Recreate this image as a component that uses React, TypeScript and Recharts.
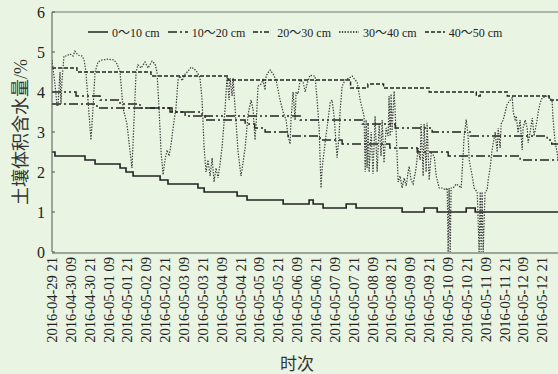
import React from "react";
import { LineChart, Line, XAxis, YAxis, ReferenceLine, Legend, Label } from "recharts";

// time axis in hours from 2016-04-29 21:00
const tickHours = [0, 12, 24, 36, 48, 60, 72, 84, 96, 108, 120, 132, 144, 156, 168, 180, 192, 204, 216, 228, 240, 252, 264, 276, 288, 300, 312];
const tickLabels = [
  "2016-04-29 21", "2016-04-30 09", "2016-04-30 21", "2016-05-01 09", "2016-05-01 21",
  "2016-05-02 09", "2016-05-02 21", "2016-05-03 09", "2016-05-03 21", "2016-05-04 09",
  "2016-05-04 21", "2016-05-05 09", "2016-05-05 21", "2016-05-06 09", "2016-05-06 21",
  "2016-05-07 09", "2016-05-07 21", "2016-05-08 09", "2016-05-08 21", "2016-05-09 09",
  "2016-05-09 21", "2016-05-10 09", "2016-05-10 21", "2016-05-11 09", "2016-05-11 21",
  "2016-05-12 09", "2016-05-12 21",
];
// tick marks are spaced a little wider than the labels in the original
const markHours = [11.9, 24.3, 36.8, 49.2, 61.6, 74.0, 86.5, 98.9, 111.3, 123.7, 136.2, 148.6, 161.0, 173.4, 185.9, 198.3, 210.7, 223.1, 235.6, 248.0, 260.4, 272.8, 285.3, 297.7, 310.1];
const yTicks = [0, 1, 2, 3, 4, 5, 6];

const seriesNames = ["0～10 cm", "10～20 cm", "20～30 cm", "30～40 cm", "40～50 cm"];

const depth0to10 = [
  [0, 2.5], [1.9, 2.4], [21, 2.3], [27.4, 2.2], [43.3, 2.1], [47.1, 2.0], [51.6, 1.9],
  [68.8, 1.8], [73.8, 1.7], [92.9, 1.6], [96.8, 1.5], [117.8, 1.4], [124.1, 1.3],
  [147.1, 1.2], [163.6, 1.3], [166.2, 1.2], [172.5, 1.1], [187.2, 1.2], [193.5, 1.1],
  [222.8, 1.0], [236.8, 1.1], [245.1, 1.0], [263.6, 1.1], [269.3, 1.0], [322, 1.0],
];

const depth10to20 = [
  [0, 3.7], [28.6, 3.6], [75.1, 3.5], [84.7, 3.4], [97.4, 3.3], [122.9, 3.2], [129, 3.1],
  [135.6, 3.0], [150.2, 2.9], [170.6, 2.8], [184.6, 2.7], [215, 2.6], [232.4, 2.5],
  [252.1, 2.4], [297.9, 2.3], [322, 2.3],
];

const depth20to30 = [
  [0, 4.0], [15.3, 3.9], [30.6, 3.8], [43.3, 3.7], [56, 3.6], [76.4, 3.5], [95.5, 3.4],
  [157.9, 3.3], [197.4, 3.2], [218.4, 3.1], [241.9, 3.0], [266.1, 2.9], [315.1, 2.8],
  [318, 2.7], [322, 2.7],
];

const depth30to40 = [
  [0, 4.8], [0.6, 4.6], [1.9, 4.2], [3.2, 3.65], [3.8, 3.65], [5.1, 4.5], [5.7, 3.7], [6.4, 4.3],
  [7.6, 4.9], [8.9, 4.9], [11.5, 4.95], [13.4, 4.9], [14.6, 5.02], [16.6, 4.92], [19.1, 4.9],
  [20.4, 4.8], [21.6, 4.5], [22.9, 3.8], [24.8, 2.8], [26.1, 3.6], [27.4, 4.5], [29.3, 4.75],
  [31.8, 4.8], [35.6, 4.82], [39.5, 4.8], [41.4, 4.7], [43.3, 4.5], [45.2, 3.6], [47.7, 3.2],
  [49.7, 2.5], [50.9, 2.1], [52.2, 3.3], [53.5, 4.5], [54.7, 4.68], [56.7, 4.6], [59.2, 4.75],
  [61.1, 4.6], [63.7, 4.77], [65.6, 4.7], [66.8, 4.5], [68.1, 3.6], [69.4, 2.5], [70.7, 1.93],
  [71.9, 2.3], [73.2, 2.55], [74.5, 2.4], [75.8, 2.7], [77.7, 3.3], [78.9, 3.6], [80.2, 4.3],
  [81.5, 4.4], [82.8, 4.28], [84.7, 4.45], [86.6, 4.52], [88.5, 4.62], [90.4, 4.58], [92.3, 4.5],
  [94.2, 4.35], [95.5, 3.8], [96.8, 2.6], [98.0, 2.0], [99.3, 2.3], [100.6, 1.9], [101.9, 2.35],
  [103.1, 1.75], [104.4, 2.1], [105.7, 1.85], [106.9, 2.2], [108.2, 2.6], [110.1, 3.56],
  [111.4, 4.39], [112.7, 3.8], [113.3, 4.35], [114.6, 3.9], [115.2, 4.35], [116.5, 3.6],
  [118.4, 2.5], [120.3, 1.9], [122.9, 2.6], [124.8, 3.45], [126.7, 3.8], [128.0, 3.55],
  [129.2, 2.8], [129.9, 3.2], [131.1, 4.14], [133.0, 4.2], [134.3, 4.3], [135.6, 4.05],
  [136.2, 4.4], [137.5, 4.48], [138.8, 4.55], [140.7, 4.45], [142.6, 4.3], [145.1, 3.8],
  [147.1, 3.5], [149.0, 3.3], [150.2, 2.9], [151.5, 2.7], [152.1, 3.3], [153.4, 4.0],
  [154.7, 3.3], [155.3, 4.0], [156.6, 3.95], [157.9, 4.3], [159.8, 4.25], [161.1, 4.0],
  [162.3, 4.2], [164.2, 4.42], [166.2, 4.4], [167.4, 4.4], [168.7, 3.8], [170.0, 3.1],
  [171.2, 1.6], [171.9, 2.1], [173.8, 2.73], [176.3, 3.5], [177.0, 3.73], [178.2, 3.8],
  [179.5, 3.4], [180.8, 2.7], [181.4, 2.36], [182.7, 2.9], [183.3, 3.5], [184.6, 4.14],
  [186.5, 4.3], [189.1, 4.35], [191.0, 4.4], [192.9, 4.3], [194.2, 4.25], [196.1, 3.8],
  [198.6, 3.39], [199.3, 2.0], [199.9, 3.3], [200.5, 2.1], [201.2, 3.2], [201.8, 2.0],
  [203.1, 3.0], [204.3, 1.95], [205.6, 3.4], [206.9, 2.0], [208.2, 3.2], [209.4, 2.4],
  [210.1, 3.3], [211.3, 2.23], [212.6, 3.1], [213.9, 2.9], [214.5, 3.9], [215.2, 2.9],
  [215.8, 3.95], [216.4, 3.0], [217.7, 4.02], [219.0, 3.0], [220.3, 1.75], [221.5, 1.9],
  [222.8, 1.6], [224.1, 1.85], [225.4, 1.65], [226.6, 2.0], [227.3, 2.14], [228.5, 1.8],
  [229.8, 1.7], [231.7, 2.1], [233.0, 2.6], [234.3, 2.3], [234.9, 3.2], [236.2, 1.9],
  [236.8, 3.2], [238.1, 2.0], [238.7, 3.23], [240.0, 1.8], [241.3, 2.47], [243.2, 2.4],
  [244.5, 1.9], [246.4, 1.6], [248.9, 1.6], [250.2, 1.55], [251.5, 1.6], [252.1, 0],
  [252.7, 1.6], [253.4, 0], [254.0, 1.6], [255.3, 1.6], [257.2, 1.7], [259.1, 1.65],
  [260.4, 1.6], [262.3, 2.9], [263.6, 3.31], [264.8, 2.9], [265.5, 2.3], [267.4, 1.9],
  [268.6, 1.6], [270.6, 1.5], [271.8, 0], [272.5, 1.5], [273.1, 0], [273.7, 1.5], [274.4, 0],
  [275.6, 1.5], [276.9, 1.55], [277.6, 1.8], [278.8, 2.1], [280.1, 2.56], [280.7, 2.7],
  [282.0, 3.0], [283.3, 2.5], [283.9, 3.1], [285.2, 2.6], [285.8, 3.2], [287.1, 3.3],
  [288.4, 3.5], [289.7, 3.7], [291.6, 3.8], [292.9, 3.86], [293.5, 3.5], [294.7, 3.31],
  [295.4, 3.4], [296.6, 2.98], [297.9, 3.3], [299.2, 2.55], [299.8, 3.1], [301.1, 3.3],
  [302.4, 3.1], [303.0, 2.73], [304.3, 3.0], [305.6, 3.35], [306.8, 2.9], [308.7, 3.3],
  [309.4, 3.5], [310.7, 3.73], [311.9, 3.85], [313.8, 3.88], [315.1, 3.9], [317.0, 3.85],
  [318.3, 3.75], [318.9, 3.3], [320.2, 2.73], [321.5, 2.48], [322, 2.3],
];

const depth40to50 = [
  [0, 4.6], [15.9, 4.5], [63, 4.4], [112, 4.3], [190, 4.1], [201, 4.2], [211, 4.1],
  [240, 4.0], [270, 3.9], [272.5, 4.0], [289.7, 3.9], [316.4, 3.8], [322, 3.8],
];

const toPoints = (rows: number[][]) => rows.map(([t, v]) => ({ t, v }));

const SERIF = "Liberation Serif, Noto Sans CJK SC, serif";
const CJK = "Noto Sans CJK SC, sans-serif";
const INK = "#222";

const styles = [
  { data: depth0to10, type: "stepAfter", color: INK, dash: undefined, width: 1.6, legendDash: undefined },
  { data: depth10to20, type: "stepAfter", color: INK, dash: "9 3 2 3", width: 1.4, legendDash: "9 3 2 3" },
  { data: depth20to30, type: "stepAfter", color: INK, dash: "9 3 2 3 2 3", width: 1.4, legendDash: "5 2 2 2 5" },
  { data: depth30to40, type: "linear", color: "#3a3a3a", dash: "1.4 1.4", width: 1.2, legendDash: "1.4 1.4" },
  { data: depth40to50, type: "stepAfter", color: INK, dash: "4 2", width: 1.4, legendDash: "4 2" },
];

function DateTick(props: any) {
  const { x, y, payload } = props;
  const i = tickHours.indexOf(payload.value);
  return (
    <text
      x={x}
      y={y}
      transform={`rotate(-90 ${x} ${y})`}
      textAnchor="end"
      dominantBaseline="central"
      style={{ fontFamily: SERIF, fontSize: 14.5, fill: INK }}
    >
      {tickLabels[i]}
    </text>
  );
}

function ValueTick(props: any) {
  const { x, y, payload } = props;
  return (
    <text x={x} y={y} textAnchor="end" dominantBaseline="central" style={{ fontFamily: SERIF, fontSize: 16, fill: INK }}>
      {payload.value}
    </text>
  );
}

function LegendRow() {
  return (
    <div style={{ display: "flex", alignItems: "center", fontFamily: SERIF, fontSize: 12, color: INK }}>
      {seriesNames.map((name, i) => (
        <div key={name} style={{ display: "flex", alignItems: "center", marginRight: 8 }}>
          <svg width={20} height={6}>
            <line x1={0} y1={3} x2={20} y2={3} stroke={INK} strokeWidth={1.5} strokeDasharray={styles[i].legendDash} />
          </svg>
          <span style={{ marginLeft: 4, whiteSpace: "nowrap" }}>{name}</span>
        </div>
      ))}
    </div>
  );
}

export default function App() {
  return (
    <div style={{ position: "absolute", left: 0, top: 0, width: 558, height: 374, background: "#e9f5e2" }}>
      <LineChart width={558} height={374} margin={{ top: 12, right: 0, bottom: 120, left: 0 }}>
        <XAxis
          xAxisId="marks"
          type="number"
          dataKey="t"
          domain={[0, 322]}
          allowDataOverflow
          ticks={markHours}
          interval={0}
          height={1}
          axisLine={{ stroke: "#555" }}
          tick={false}
          tickSize={-3}
          tickLine={{ stroke: "#555" }}
        />
        <XAxis
          type="number"
          dataKey="t"
          domain={[0, 322]}
          allowDataOverflow
          ticks={tickHours}
          interval={0}
          height={1}
          tickLine={false}
          tickSize={0}
          tickMargin={5}
          axisLine={false}
          tick={<DateTick />}
        >
          <Label
            content={(p: any) => {
              const vb = p.viewBox || { x: 52, y: 252, width: 506 };
              return (
                <text x={vb.x + vb.width / 2 - 8} y={vb.y + 110} textAnchor="middle" dominantBaseline="central" style={{ fontFamily: CJK, fontSize: 17, fill: "#333" }}>
                  时次
                </text>
              );
            }}
          />
        </XAxis>
        <YAxis
          domain={[0, 6]}
          ticks={yTicks}
          interval={0}
          width={52}
          tickSize={-3}
          tickMargin={10}
          axisLine={{ stroke: "#555" }}
          tickLine={{ stroke: "#555" }}
          tick={<ValueTick />}
        >
          <Label
            content={(p: any) => {
              const vb = p.viewBox || { y: 12, height: 240 };
              const cx = 20.5;
              const cy = vb.y + vb.height / 2;
              return (
                <text x={cx} y={cy} transform={`rotate(-90 ${cx} ${cy})`} textAnchor="middle" dominantBaseline="central" style={{ fontFamily: SERIF, fontSize: 18, fill: "#333" }}>
                  土壤体积含水量/%
                </text>
              );
            }}
          />
        </YAxis>
        <ReferenceLine y={6} stroke="#777" strokeWidth={1} />
        <Legend
          content={LegendRow}
          layout="horizontal"
          verticalAlign="middle"
          align="center"
          wrapperStyle={{ top: 23, left: 88, width: "auto" }}
        />
        {styles.map((s, i) => (
          <Line
            key={seriesNames[i]}
            name={seriesNames[i]}
            data={toPoints(s.data)}
            dataKey="v"
            type={s.type as any}
            stroke={s.color}
            strokeWidth={s.width}
            strokeDasharray={s.dash}
            dot={false}
            activeDot={false}
            isAnimationActive={false}
          />
        ))}
      </LineChart>
    </div>
  );
}
